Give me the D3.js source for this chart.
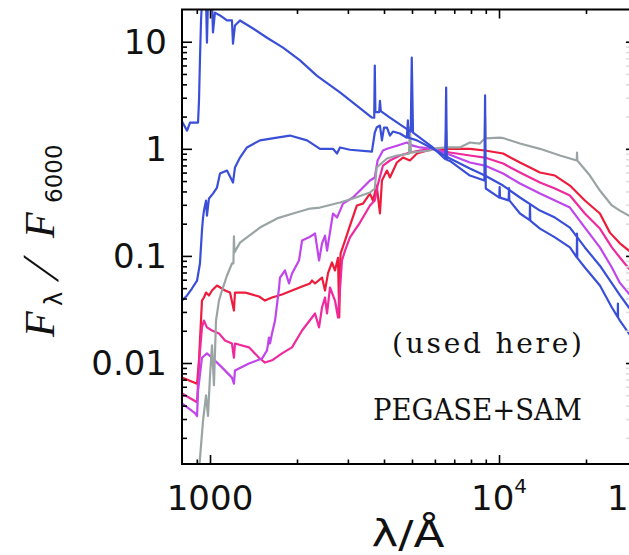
<!DOCTYPE html>
<html>
<head>
<meta charset="utf-8">
<script src="https://cdn.jsdelivr.net/npm/d3@7"></script>
<style>
  body { margin: 0; background: #fff; }
  svg { display: block; }
</style>
</head>
<body>
<div id="chart"></div>
<script>
// spectra: [wavelength (A), F_lambda / F_6000]
const specYoung = [[800,1.80],[833,1.48],[853,1.76],[909,1.76],[916,2.82],[923,6.7],[931,15.8],[938,24],[969,24],[976,9.8],[984,24],[1016,24],[1024,12.2],[1040,18.7],[1083,17.6],[1145,15.8],[1191,15.8],[1201,9.6],[1220,14.2],[1270,15.8],[1409,13.3],[1575,10.9],[1789,8.8],[2049,6.7],[2346,4.8],[2817,3.36],[3633,1.96],[3700,1.95],[3717,6.0],[3735,2.2],[3850,2.2],[3873,2.8],[3900,2.25],[4194,1.96],[4541,1.69],[4950,1.45],[4990,7.1],[5040,1.42],[5902,1.03],[6520,0.80],[6563,3.74],[6600,0.79],[6763,0.77],[7930,0.563],[8900,0.506],[8950,3.15],[9000,0.426],[10020,0.35],[10050,0.44],[10080,0.35],[10800,0.33],[10830,0.43],[10860,0.33],[11818,0.249],[12770,0.216],[12800,0.296],[12830,0.214],[13858,0.180],[15615,0.149],[17596,0.120],[18580,0.097],[18620,0.162],[18660,0.096],[19820,0.078],[22342,0.053],[24580,0.033],[25760,0.0268],[25790,0.0359],[25820,0.0266],[26198,0.0249],[28140,0.0189],[30000,0.0148]];

const specBlue2 = [[800,0.0383],[833,0.0427],[866,0.0496],[902,0.0589],[923,0.085],[938,0.173],[946,0.228],[953,0.265],[969,0.329],[976,0.238],[992,0.344],[1024,0.382],[1057,0.435],[1083,0.588],[1145,0.627],[1201,0.484],[1220,0.669],[1270,0.829],[1342,1.03],[1489,1.20],[1706,1.27],[1891,1.33],[2167,1.20],[2402,1.0],[2664,1.0],[2751,0.904],[2817,1.03],[3050,0.98],[3633,0.94],[3717,1.42],[3773,1.58],[3873,1.65],[3935,1.20],[4000,1.58],[4096,1.58],[4194,1.33],[4295,1.45],[4541,1.39],[4800,1.27],[4838,1.84],[4870,1.27],[5202,1.20],[5902,1.0],[6763,0.812],[7930,0.655],[8935,0.563],[10330,0.454],[11818,0.351],[13858,0.265],[15615,0.228],[17596,0.184],[19820,0.120],[22342,0.081],[24193,0.059],[26198,0.043],[28140,0.033],[30000,0.027]];

const specGray = [[900,0.0003],[916,0.00099],[946,0.0029],[969,0.0050],[984,0.0032],[1000,0.0076],[1016,0.0146],[1032,0.0062],[1049,0.0249],[1074,0.0383],[1100,0.0475],[1145,0.0656],[1191,0.085],[1205,0.085],[1210,0.152],[1215,0.108],[1270,0.133],[1342,0.149],[1489,0.184],[1706,0.224],[1938,0.249],[2218,0.277],[2402,0.283],[2817,0.315],[3123,0.344],[3577,0.391],[3717,0.426],[3773,0.669],[4096,0.812],[4432,0.866],[4880,0.90],[4918,1.58],[4960,0.92],[5764,0.964],[5902,1.0],[6520,1.03],[6563,1.48],[6600,1.03],[7323,1.03],[7930,1.145],[8587,1.12],[8920,1.25],[8950,2.0],[8980,1.25],[10080,1.27],[10330,1.26],[11818,1.12],[13858,1.0],[16250,0.866],[18580,0.778],[18620,0.924],[18660,0.778],[20633,0.563],[22342,0.408],[24580,0.296],[26198,0.265],[28140,0.238],[30000,0.225]];

const specViolet = [[800,0.0042],[887,0.0034],[902,0.0032],[909,0.0055],[938,0.0112],[976,0.0123],[1016,0.0112],[1100,0.0091],[1191,0.0073],[1210,0.0064],[1220,0.0085],[1364,0.0099],[1513,0.0110],[1575,0.0131],[1600,0.0173],[1613,0.0152],[1639,0.0189],[1679,0.0249],[1734,0.0507],[1746,0.0628],[1818,0.0731],[1877,0.0553],[1922,0.0685],[2032,0.0906],[2082,0.139],[2202,0.149],[2309,0.162],[2384,0.0906],[2441,0.131],[2500,0.155],[2541,0.112],[2664,0.249],[2751,0.228],[2885,0.308],[3123,0.351],[3384,0.435],[3577,0.506],[3717,0.540],[3801,0.778],[3967,0.964],[4096,1.0],[4432,1.07],[4800,1.145],[5037,1.07],[5325,1.03],[5902,1.0],[6763,0.88],[7930,0.745],[8935,0.698],[10330,0.588],[11818,0.474],[13858,0.382],[15615,0.329],[17596,0.283],[19820,0.184],[22342,0.120],[24580,0.078],[26198,0.056],[28140,0.0445],[30000,0.038]];

const specPink = [[800,0.0052],[902,0.0043],[916,0.0099],[938,0.0215],[953,0.0249],[976,0.0215],[1016,0.0201],[1074,0.0189],[1127,0.0162],[1191,0.0152],[1210,0.0112],[1220,0.0152],[1364,0.0140],[1478,0.0112],[1550,0.0101],[1639,0.0106],[1775,0.0123],[1922,0.0140],[2082,0.0201],[2254,0.0266],[2309,0.0290],[2384,0.0215],[2441,0.0330],[2500,0.0409],[2541,0.0290],[2601,0.0507],[2707,0.0383],[2773,0.0266],[2862,0.0906],[2932,0.112],[3050,0.149],[3303,0.205],[3577,0.296],[3717,0.329],[3801,0.454],[3967,0.698],[4194,0.778],[4541,0.866],[4918,0.924],[5325,0.964],[5902,1.0],[6763,0.924],[7930,0.866],[8935,0.829],[10330,0.729],[11818,0.601],[13858,0.484],[15615,0.426],[17596,0.366],[19820,0.249],[22342,0.180],[24580,0.120],[26198,0.0966],[28140,0.0763],[30000,0.066]];

const specRed = [[800,0.0073],[902,0.0064],[916,0.0106],[938,0.0383],[953,0.0409],[969,0.0455],[992,0.0427],[1016,0.0475],[1057,0.0529],[1127,0.0475],[1173,0.0455],[1210,0.0309],[1220,0.0455],[1321,0.0455],[1364,0.0445],[1478,0.0418],[1550,0.0383],[1639,0.0409],[1775,0.0436],[1922,0.0475],[2082,0.0518],[2218,0.0553],[2254,0.0589],[2309,0.0553],[2441,0.0628],[2500,0.0475],[2561,0.069],[2642,0.0868],[2707,0.0731],[2773,0.096],[2800,0.0266],[2830,0.105],[2932,0.139],[3050,0.192],[3223,0.296],[3384,0.308],[3577,0.382],[3662,0.329],[3773,0.454],[3873,0.249],[3935,0.506],[4096,0.627],[4194,0.540],[4432,0.745],[4651,0.829],[4918,0.778],[5202,0.904],[5902,1.0],[6763,1.0],[7930,1.0],[8935,0.964],[10330,0.904],[11818,0.745],[13858,0.601],[15615,0.563],[17596,0.454],[19820,0.329],[22342,0.249],[24193,0.165],[26198,0.131],[28140,0.112],[30000,0.10]];

const xMajorTicks = [1000, 10000];
const xMinorTicks = [900, 2000, 3000, 4000, 5000, 6000, 7000, 8000, 9000, 20000];
const yMajorTicks = [0.01, 0.1, 1, 10];
const yTickLabels = ["0.01", "0.1", "1", "10"];

const series = [
    {data: specRed, color: "#ee1c3c"},
    {data: specPink, color: "#ee2a9e"},
    {data: specViolet, color: "#c046ec"},
    {data: specGray, color: "#9ba4a4"},
    {data: specBlue2, color: "#3a4fd8"},
    {data: specYoung, color: "#3a4fd8"}
];

const W = 629, H = 555;
const plotLeft = 182, plotTop = 9.5, plotBottom = 464;
const decadeX = 289;

const x = d3.scaleLog()
    .domain([800, 30000])
    .range([plotLeft, plotLeft + decadeX * Math.log10(30000 / 800)]);
const y = d3.scaleLog()
    .domain([0.00114, 20])
    .range([plotBottom, plotTop]);

const yMinor = [];
[0.001, 0.01, 0.1, 1, 10].forEach(d => {
    for (let k = 2; k <= 9; k++) {
        const v = d * k;
        if (v > y.domain()[0] && v < y.domain()[1]) yMinor.push(v);
    }
});

const svg = d3.select("#chart").append("svg")
    .attr("width", W).attr("height", H);

svg.append("defs").append("clipPath").attr("id", "plotclip")
    .append("rect")
    .attr("x", plotLeft).attr("y", plotTop)
    .attr("width", W - plotLeft + 20).attr("height", plotBottom - plotTop);

// spectra
const line = d3.line()
    .x(d => x(d[0]))
    .y(d => y(d[1]));

svg.append("g").attr("clip-path", "url(#plotclip)")
    .selectAll("path")
    .data(series)
    .enter()
    .append("path")
    .attr("d", d => line(d.data))
    .attr("fill", "none")
    .attr("stroke", d => d.color)
    .attr("stroke-width", 2.2)
    .attr("stroke-linejoin", "round");

// ticks
function tickAxis(axis, values, size, tx, ty) {
    const g = svg.append("g")
        .attr("transform", "translate(" + tx + "," + ty + ")")
        .call(axis.tickValues(values).tickSize(size).tickFormat(""));
    g.select(".domain").remove();
    g.selectAll("line").attr("stroke", "#000").attr("stroke-width", 1.6);
    return g;
}
tickAxis(d3.axisBottom(x), xMajorTicks, -9, 0, plotBottom);
tickAxis(d3.axisBottom(x), xMinorTicks, -4.5, 0, plotBottom);
tickAxis(d3.axisTop(x), xMajorTicks, -9, 0, plotTop);
tickAxis(d3.axisTop(x), xMinorTicks, -4.5, 0, plotTop);
tickAxis(d3.axisLeft(y), yMajorTicks, -10, plotLeft, 0);
tickAxis(d3.axisLeft(y), yMinor, -5, plotLeft, 0);

// neighbouring panel's axis, just visible at the right edge
tickAxis(d3.axisRight(y), yMajorTicks, 4, 626, 0);
tickAxis(d3.axisRight(y), yMinor, 3, 626, 0)
    .selectAll("line").attr("stroke", "#dcdcdc");

// frame
svg.append("path")
    .attr("d", "M" + W + "," + plotTop + "H" + plotLeft + "V" + plotBottom + "H" + W)
    .attr("fill", "none")
    .attr("stroke", "#000")
    .attr("stroke-width", 2);

// tick labels
const labelFont = "'DejaVu Sans', sans-serif";
svg.selectAll(".ylab")
    .data(yMajorTicks)
    .enter()
    .append("text")
    .attr("class", "ylab")
    .attr("x", 167)
    .attr("y", d => y(d))
    .attr("dy", "0.36em")
    .attr("text-anchor", "end")
    .style("font-family", labelFont)
    .style("font-size", "34px")
    .style("fill", "#111")
    .text((d, i) => yTickLabels[i]);

svg.append("text")
    .attr("x", x(1000)).attr("y", 510)
    .attr("text-anchor", "middle")
    .style("font-family", labelFont)
    .style("font-size", "34px")
    .style("fill", "#111")
    .text("1000");

const t4 = svg.append("text")
    .attr("x", x(10000)).attr("y", 510)
    .attr("text-anchor", "middle")
    .style("font-family", labelFont)
    .style("fill", "#111");
t4.append("tspan").style("font-size", "34px").text("10");
t4.append("tspan").attr("dy", -17).style("font-size", "20px").text("4");

// the part of the next panel's first label that shows at the edge
svg.append("text")
    .attr("x", 607).attr("y", 510)
    .style("font-family", labelFont)
    .style("font-size", "34px")
    .style("fill", "#111")
    .text("1");

// axis titles
svg.append("text")
    .attr("x", 408).attr("y", 547)
    .attr("text-anchor", "middle")
    .attr("textLength", 73)
    .attr("lengthAdjust", "spacingAndGlyphs")
    .style("font-family", labelFont)
    .style("font-size", "37px")
    .style("fill", "#111")
    .text("λ/Å");

const serif = "'Liberation Serif', serif";
function yTitlePart(txt, bx, by, size, family, italic, extra) {
    return svg.append("text")
        .attr("transform", "translate(" + bx + "," + by + ") rotate(-90)" + (extra || ""))
        .style("font-family", family)
        .style("font-size", size + "px")
        .style("font-style", italic ? "italic" : "normal")
        .style("fill", "#111")
        .text(txt);
}
yTitlePart("F", 54, 337, 42, serif, true);
yTitlePart("λ", 62, 306, 24, labelFont, false);
yTitlePart("/", 58, 282, 52, serif, false, " skewX(-20)");
yTitlePart("F", 54, 238, 42, serif, true);
yTitlePart("6000", 62, 203, 23, labelFont, false);

// annotations
svg.append("text")
    .attr("x", 487).attr("y", 353)
    .attr("text-anchor", "middle")
    .attr("textLength", 190)
    .attr("lengthAdjust", "spacing")
    .style("font-family", "'DejaVu Serif', serif")
    .style("font-size", "28px")
    .style("fill", "#111")
    .text("(used here)");

svg.append("text")
    .attr("x", 477.5).attr("y", 420)
    .attr("text-anchor", "middle")
    .attr("textLength", 209)
    .attr("lengthAdjust", "spacingAndGlyphs")
    .style("font-family", "'DejaVu Serif', serif")
    .style("font-size", "29px")
    .style("fill", "#111")
    .text("PEGASE+SAM");
</script>
</body>
</html>
